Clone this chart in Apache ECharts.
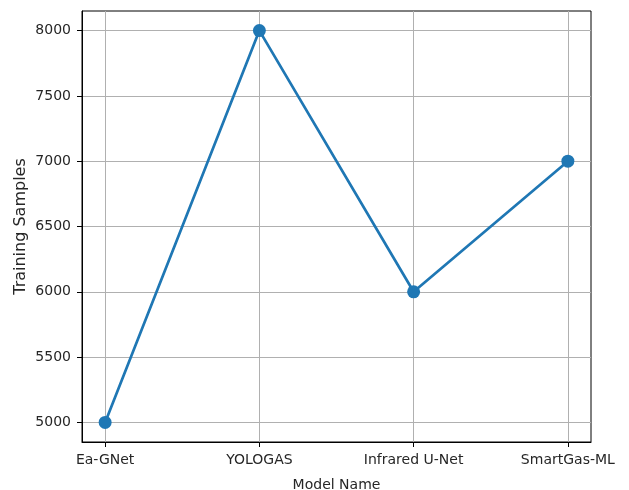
<!DOCTYPE html>
<html>
<head>
<meta charset="utf-8">
<script src="https://cdn.jsdelivr.net/npm/echarts@6/dist/echarts.min.js"></script>
<style>
  html, body { margin: 0; padding: 0; background: #fff; }
  #main { width: 629px; height: 490px; }
</style>
</head>
<body>
<div id="main"></div>
<script>
var models = ['Ea-GNet', 'YOLOGAS', 'Infrared U-Net', 'SmartGas-ML'];
var samples = [5000, 8000, 6000, 7000];
var yTicks = [5000, 5500, 6000, 6500, 7000, 7500, 8000];

var chart = echarts.init(document.getElementById('main'));

var font = 'DejaVu Sans';
var textColor = '#262626';

var option = {
  animation: false,
  grid: {
    left: 82, right: 38, top: 11, bottom: 48,
    outerBoundsMode: 'none',
    show: true, borderColor: '#000', borderWidth: 1
  },
  xAxis: {
    type: 'value',
    min: -0.15, max: 3.15,
    name: 'Model Name',
    nameLocation: 'middle',
    nameGap: 36,
    nameMoveOverlap: false,
    nameTextStyle: { fontFamily: font, fontSize: 14, color: textColor },
    axisLine: { show: true, onZero: false, lineStyle: { color: '#000', width: 1 } },
    axisTick: { show: true, length: 5, lineStyle: { color: '#000' }, customValues: [0, 1, 2, 3] },
    axisLabel: {
      fontFamily: font, fontSize: 14, color: textColor, margin: 11,
      customValues: [0, 1, 2, 3],
      formatter: function (v) { return models[Math.round(v)]; }
    },
    splitLine: { show: true, lineStyle: { color: '#b0b0b0', width: 1 } }
  },
  yAxis: {
    type: 'value',
    min: 4850, max: 8150,
    name: 'Training Samples',
    nameLocation: 'middle',
    nameGap: 53,
    nameMoveOverlap: false,
    nameTextStyle: { fontFamily: font, fontSize: 16, color: textColor },
    axisLine: { show: true, onZero: false, lineStyle: { color: '#000', width: 1 } },
    axisTick: { show: true, length: 5, lineStyle: { color: '#000' }, customValues: yTicks },
    axisLabel: {
      fontFamily: font, fontSize: 14, color: textColor, margin: 11,
      customValues: yTicks,
      formatter: function (v) { return String(v); }
    },
    splitLine: { show: true, lineStyle: { color: '#b0b0b0', width: 1 } }
  },
  series: [{
    type: 'line',
    data: samples.map(function (v, i) { return [i, v]; }),
    symbol: 'circle',
    symbolSize: 13,
    lineStyle: { color: '#1f77b4', width: 2.7 },
    itemStyle: { color: '#1f77b4' }
  }]
};

chart.setOption(option);
</script>
</body>
</html>
